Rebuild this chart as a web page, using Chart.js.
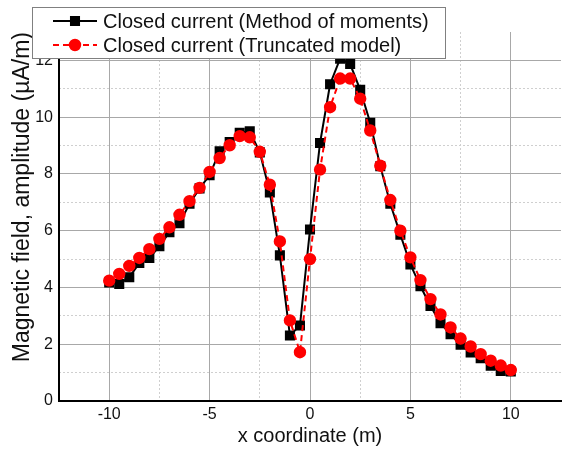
<!DOCTYPE html>
<html>
<head>
<meta charset="utf-8">
<script src="https://cdn.jsdelivr.net/npm/chart.js@4/dist/chart.umd.min.js"></script>
<style>
  html, body { margin: 0; padding: 0; background: #fff; }
  canvas { display: block; }
</style>
</head>
<body>
<canvas id="myChart" width="563" height="452"></canvas>
<script>
// x coordinate (m)
const xCoords = [-10, -9.5, -9, -8.5, -8, -7.5, -7, -6.5, -6, -5.5, -5, -4.5, -4, -3.5, -3, -2.5, -2, -1.5, -1, -0.5,
                 0, 0.5, 1, 1.5, 2, 2.5, 3, 3.5, 4, 4.5, 5, 5.5, 6, 6.5, 7, 7.5, 8, 8.5, 9, 9.5, 10];

// Closed current (Method of moments)
const momentsField = [4.18, 4.12, 4.36, 4.86, 5.04, 5.45, 5.95, 6.26, 6.95, 7.49, 7.95, 8.8, 9.12, 9.45, 9.5, 8.76, 7.35, 5.13, 2.31, 2.66,
                      6.04, 9.09, 11.16, 12.06, 11.87, 10.96, 9.8, 8.27, 6.95, 5.86, 4.81, 4.04, 3.35, 2.74, 2.35, 1.98, 1.71, 1.51, 1.24, 1.06, 1.04];

// Closed current (Truncated model)
const truncatedField = [4.24, 4.48, 4.76, 5.04, 5.35, 5.71, 6.12, 6.56, 7.04, 7.51, 8.07, 8.56, 9.01, 9.33, 9.29, 8.78, 7.62, 5.62, 2.84, 1.72,
                        5.0, 8.15, 10.35, 11.36, 11.36, 10.65, 9.53, 8.29, 7.08, 6.0, 5.06, 4.26, 3.59, 3.05, 2.59, 2.2, 1.92, 1.65, 1.42, 1.25, 1.09];

const xTicks = [-10, -5, 0, 5, 10];
const xMinorTicks = [-7.5, -2.5, 2.5, 7.5];
const yTicks = [0, 2, 4, 6, 8, 10, 12];
const yMinorTicks = [1, 3, 5, 7, 9, 11];

const FONT = "'Liberation Sans', Arial, sans-serif";

const toPoints = (ys) => xCoords.map((x, i) => ({ x: x, y: ys[i] }));
const setTicks = (list) => (scale) => { scale.ticks = list.map(v => ({ value: v })); };

// Legend mit Rahmen, wie im Original (oben links ueber dem Plot)
const legendBox = {
    id: 'legendBox',
    afterDraw(chart) {
        const ctx = chart.ctx;
        ctx.save();
        ctx.fillStyle = '#fff';
        ctx.strokeStyle = '#808080';
        ctx.lineWidth = 1;
        ctx.fillRect(32.5, 7.5, 413, 51);
        ctx.strokeRect(32.5, 7.5, 413, 51);
        chart.data.datasets.forEach((ds, i) => {
            const y = 21 + i * 24;
            ctx.strokeStyle = ds.borderColor;
            ctx.lineWidth = ds.borderWidth;
            ctx.setLineDash(ds.borderDash || []);
            ctx.beginPath();
            ctx.moveTo(53, y);
            ctx.lineTo(97, y);
            ctx.stroke();
            ctx.setLineDash([]);
            ctx.fillStyle = ds.pointBackgroundColor;
            ctx.strokeStyle = ds.pointBorderColor;
            Chart.helpers.drawPoint(ctx, { pointStyle: ds.pointStyle, radius: ds.pointRadius, borderWidth: 1, rotation: 0 }, 75, y);
            ctx.fillStyle = '#111';
            ctx.font = '20px ' + FONT;
            ctx.textBaseline = 'middle';
            ctx.textAlign = 'left';
            ctx.fillText(ds.label, 103, y + 1);
        });
        ctx.restore();
    }
};

const config = {
    type: 'line',
    data: {
        datasets: [{
            label: 'Closed current (Method of moments)',
            data: toPoints(momentsField),
            borderColor: '#000',
            borderWidth: 2,
            pointStyle: 'rect',
            pointRadius: 5.7,
            pointBackgroundColor: '#000',
            pointBorderColor: '#000',
            order: 2
        },
        {
            label: 'Closed current (Truncated model)',
            data: toPoints(truncatedField),
            borderColor: '#ff0000',
            borderWidth: 2,
            borderDash: [6, 4],
            pointStyle: 'circle',
            pointRadius: 5.2,
            pointBackgroundColor: '#ff0000',
            pointBorderColor: '#ff0000',
            order: 1
        }]
    },
    options: {
        responsive: false,
        animation: false,
        layout: { autoPadding: false, padding: { top: 32, right: 2, left: 0, bottom: 0 } },
        plugins: {
            legend: { display: false },
            tooltip: { enabled: false }
        },
        scales: {
            x: {
                type: 'linear',
                min: -12.5,
                max: 12.5,
                afterBuildTicks: setTicks(xTicks),
                afterFit: (s) => { s.height = 51; s.paddingLeft = 0; s.paddingRight = 0; },
                grid: { color: '#a8a8a8', lineWidth: 1, drawTicks: false },
                border: { color: '#000', width: 2 },
                ticks: { color: '#111', font: { size: 16, family: FONT }, padding: 4, maxRotation: 0, autoSkip: false },
                title: { display: true, text: 'x coordinate (m)', color: '#111', font: { size: 20, family: FONT }, padding: { top: 0, bottom: 4 } }
            },
            xMinor: {
                type: 'linear',
                position: 'bottom',
                display: true,
                min: -12.5,
                max: 12.5,
                afterBuildTicks: setTicks(xMinorTicks),
                afterFit: (s) => { s.height = 0; s.paddingLeft = 0; s.paddingRight = 0; },
                grid: { color: '#cfcfcf', lineWidth: 1, drawTicks: false },
                border: { display: false, dash: [2, 2] },
                ticks: { display: false }
            },
            y: {
                type: 'linear',
                min: 0,
                max: 13,
                afterBuildTicks: setTicks(yTicks),
                afterFit: (s) => { s.width = 59; },
                grid: { color: '#a8a8a8', lineWidth: 1, drawTicks: false },
                border: { color: '#000', width: 2 },
                ticks: { color: '#111', font: { size: 16, family: FONT }, padding: 6 },
                title: { display: true, align: 'end', text: 'Magnetic field, amplitude (µA/m)', color: '#111', font: { size: 23, family: FONT }, padding: { top: 9, bottom: 0 } }
            },
            yMinor: {
                type: 'linear',
                position: 'left',
                display: true,
                min: 0,
                max: 13,
                afterBuildTicks: setTicks(yMinorTicks),
                afterFit: (s) => { s.width = 0; },
                grid: { color: '#cfcfcf', lineWidth: 1, drawTicks: false },
                border: { display: false, dash: [2, 2] },
                ticks: { display: false }
            }
        }
    },
    plugins: [legendBox]
};

// Erstellen des Charts
const ctx = document.querySelector('#myChart').getContext('2d');
new Chart(ctx, config);
</script>
</body>
</html>
